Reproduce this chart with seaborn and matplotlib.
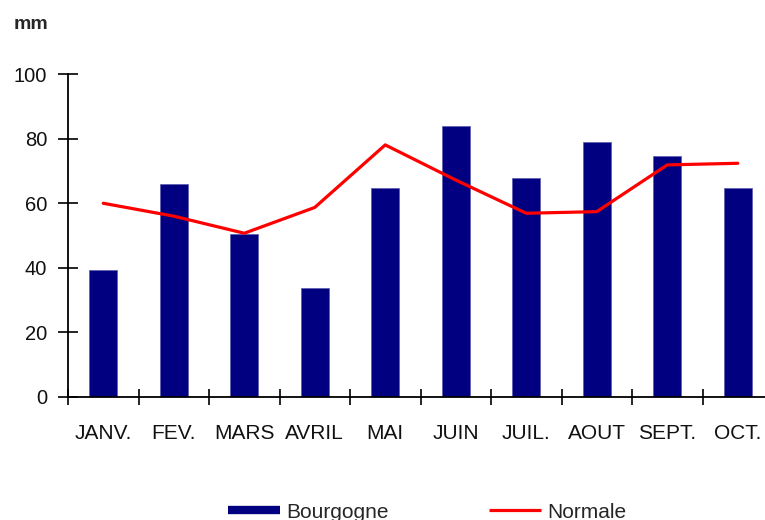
import matplotlib
matplotlib.use("Agg")
import matplotlib.pyplot as plt
import seaborn as sns
import numpy as np
import pandas as pd
from matplotlib.lines import Line2D

months = ["JANV.", "FEV.", "MARS", "AVRIL", "MAI", "JUIN", "JUIL.", "AOUT", "SEPT.", "OCT."]
bourgogne = [39.4, 66.0, 50.5, 33.6, 64.8, 84.1, 67.9, 79.1, 74.8, 64.8]
normale = [60.0, 56.0, 50.7, 58.7, 78.1, 67.2, 56.9, 57.4, 71.9, 72.4]
yticks = [0, 20, 40, 60, 80, 100]

sns.set_style("white")
plt.rcParams["font.family"] = ["Liberation Sans", "DejaVu Sans"]

df = pd.DataFrame({"mois": months, "Bourgogne": bourgogne, "Normale": normale})
df["pos"] = np.arange(len(months))

fig = plt.figure(figsize=(7.65, 5.2), dpi=100)
ax = fig.add_axes([68/765, 1-396.7/520, 773/765 - 68/765, (396.7-74.3)/520])

sns.barplot(data=df, x="mois", y="Bourgogne", color="#000080", width=0.4,
            saturation=1, ax=ax, edgecolor="#5a5ab0", linewidth=0.5)
sns.lineplot(data=df, x="pos", y="Normale", color="#FF0000", linewidth=2.3, ax=ax)

ax.set_xlim(-0.5, len(months) - 0.5)
ax.set_ylim(0, 100)
ax.set_yticks(yticks)
ax.set_yticklabels([str(v) for v in yticks], fontsize=14.5, color="#111111")
ax.set_xticks(np.arange(len(months)))
ax.set_xticklabels(months, fontsize=15, color="#111111")
ax.tick_params(axis="x", which="major", length=0, pad=20, bottom=False)
ax.set_xticks(np.arange(-0.5, len(months), 1.0), minor=True)
ax.tick_params(axis="x", which="minor", direction="inout", length=12, width=1.2,
               color="black", bottom=True)
ax.tick_params(axis="y", direction="inout", length=14, width=1.2, color="black", pad=8, left=True)
ax.set_xlabel("")
ax.set_ylabel("")
for s in ["top", "right"]:
    ax.spines[s].set_visible(False)
for s in ["left", "bottom"]:
    ax.spines[s].set_color("black")
    ax.spines[s].set_linewidth(1.3)
ax.grid(False)

fig.text(14/765, 1-24/520, "mm", fontsize=14, fontweight="bold", va="center", ha="left")

handles = [Line2D([0], [0], color="#000080", linewidth=6, solid_capstyle="butt"),
           Line2D([0], [0], color="#FF0000", linewidth=2.3, solid_capstyle="butt")]
fig.legend(handles, ["Bourgogne", "Normale"], loc="center", ncol=2,
           bbox_to_anchor=(427/765, 1-512/520), frameon=False, fontsize=15,
           handlelength=2.5, handletextpad=0.3, columnspacing=4.8)

fig.savefig("out.png", dpi=100)
